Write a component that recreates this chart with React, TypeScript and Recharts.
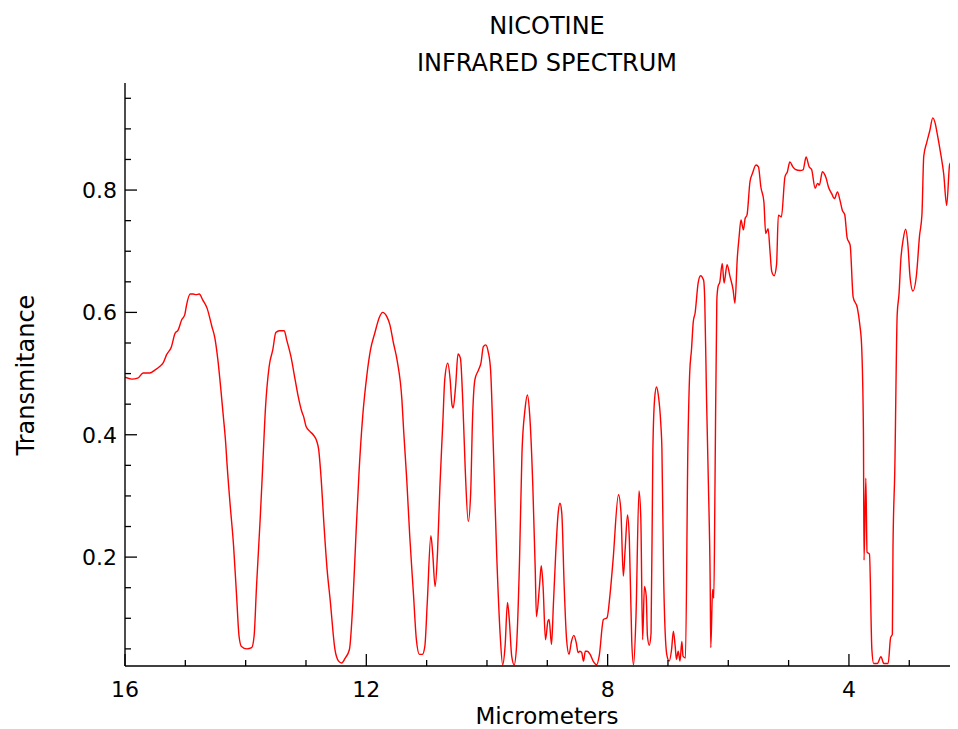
import React from "react";
import { LineChart, Line, XAxis, YAxis } from "recharts";

const wavelengthUm = [
  16.0, 15.89, 15.78, 15.7, 15.59, 15.5, 15.42, 15.37, 15.31, 15.23,
  15.17, 15.12, 15.06, 15.01, 14.98, 14.92, 14.87, 14.82, 14.77, 14.71,
  14.64, 14.56, 14.51, 14.46, 14.41, 14.37, 14.33, 14.31, 14.26, 14.2,
  14.15, 14.11, 14.07, 13.98, 13.9, 13.86, 13.82, 13.76, 13.72, 13.67,
  13.61, 13.55, 13.5, 13.44, 13.36, 13.32, 13.25, 13.18, 13.13, 13.07,
  13.04, 13.0, 12.93, 12.88, 12.82, 12.79, 12.75, 12.7, 12.65, 12.6,
  12.52, 12.46, 12.41, 12.35, 12.28, 12.22, 12.17, 12.12, 12.06, 11.99,
  11.93, 11.86, 11.78, 11.73, 11.66, 11.61, 11.55, 11.49, 11.41, 11.38,
  11.33, 11.28, 11.22, 11.17, 11.12, 11.07, 11.03, 10.99, 10.93, 10.9,
  10.86, 10.82, 10.78, 10.73, 10.7, 10.65, 10.61, 10.58, 10.56, 10.52,
  10.48, 10.44, 10.4, 10.36, 10.31, 10.27, 10.24, 10.2, 10.14, 10.1,
  10.06, 10.02, 9.98, 9.94, 9.9, 9.84, 9.78, 9.74, 9.7, 9.66,
  9.63, 9.59, 9.55, 9.51, 9.46, 9.42, 9.37, 9.33, 9.29, 9.24,
  9.2, 9.18, 9.13, 9.1, 9.07, 9.03, 8.99, 8.97, 8.93, 8.9,
  8.86, 8.82, 8.79, 8.76, 8.72, 8.68, 8.64, 8.6, 8.56, 8.52,
  8.49, 8.46, 8.43, 8.4, 8.37, 8.34, 8.29, 8.24, 8.18, 8.14,
  8.07, 8.01, 7.96, 7.91, 7.82, 7.78, 7.74, 7.71, 7.67, 7.64,
  7.6, 7.57, 7.53, 7.48, 7.45, 7.42, 7.39, 7.36, 7.34, 7.31,
  7.28, 7.25, 7.22, 7.19, 7.16, 7.12, 7.1, 7.07, 7.02, 6.98,
  6.94, 6.91, 6.88, 6.86, 6.83, 6.8, 6.77, 6.75, 6.71, 6.67,
  6.64, 6.61, 6.58, 6.55, 6.5, 6.46, 6.41, 6.39, 6.36, 6.33,
  6.3, 6.29, 6.26, 6.24, 6.22, 6.19, 6.17, 6.14, 6.1, 6.07,
  6.02, 5.97, 5.92, 5.89, 5.85, 5.82, 5.79, 5.75, 5.72, 5.69,
  5.64, 5.6, 5.54, 5.5, 5.46, 5.41, 5.38, 5.34, 5.31, 5.28,
  5.24, 5.2, 5.17, 5.12, 5.06, 5.02, 4.98, 4.93, 4.89, 4.81,
  4.76, 4.71, 4.66, 4.62, 4.56, 4.52, 4.49, 4.44, 4.38, 4.34,
  4.29, 4.24, 4.19, 4.15, 4.11, 4.07, 4.03, 3.98, 3.93, 3.86,
  3.82, 3.79, 3.76, 3.75, 3.72, 3.7, 3.66, 3.62, 3.59, 3.53,
  3.47, 3.42, 3.35, 3.31, 3.28, 3.27, 3.24, 3.2, 3.17, 3.14,
  3.1, 3.06, 3.02, 2.99, 2.94, 2.88, 2.83, 2.79, 2.76, 2.71,
  2.66, 2.61, 2.57, 2.54, 2.48, 2.43, 2.38, 2.33, 2.27, 2.21,
  2.19, 2.14,
];

const transmittance = [
  0.494, 0.491, 0.493, 0.501, 0.501, 0.506, 0.512, 0.517, 0.531, 0.544,
  0.566, 0.571, 0.588, 0.596, 0.612, 0.63, 0.63, 0.629, 0.63, 0.62,
  0.607, 0.577, 0.558, 0.522, 0.473, 0.43, 0.385, 0.354, 0.289, 0.218,
  0.136, 0.071, 0.054, 0.05, 0.052, 0.071, 0.152, 0.261, 0.343, 0.446,
  0.512, 0.539, 0.567, 0.57, 0.57, 0.555, 0.528, 0.49, 0.463, 0.438,
  0.43, 0.414, 0.405, 0.4, 0.389, 0.376, 0.33, 0.25, 0.18, 0.131,
  0.049, 0.03, 0.027, 0.035, 0.049, 0.131, 0.24, 0.34, 0.43, 0.498,
  0.539, 0.566, 0.593, 0.6, 0.593, 0.58, 0.55, 0.522, 0.457, 0.405,
  0.327, 0.234, 0.142, 0.065, 0.041, 0.041, 0.054, 0.125, 0.235, 0.207,
  0.152, 0.207, 0.316, 0.424, 0.49, 0.517, 0.49, 0.449, 0.444, 0.479,
  0.532, 0.525, 0.452, 0.343, 0.258, 0.305, 0.424, 0.49, 0.506, 0.517,
  0.544, 0.547, 0.536, 0.506, 0.397, 0.207, 0.071, 0.024, 0.054, 0.126,
  0.098, 0.038, 0.024, 0.054, 0.196, 0.37, 0.441, 0.465, 0.43, 0.316,
  0.18, 0.103, 0.152, 0.186, 0.152, 0.065, 0.095, 0.098, 0.057, 0.12,
  0.207, 0.272, 0.288, 0.272, 0.152, 0.065, 0.041, 0.062, 0.072, 0.06,
  0.044, 0.046, 0.044, 0.03, 0.046, 0.046, 0.041, 0.03, 0.024, 0.038,
  0.098, 0.101, 0.139, 0.195, 0.302, 0.275, 0.169, 0.212, 0.269, 0.229,
  0.062, 0.024, 0.103, 0.308, 0.264, 0.065, 0.152, 0.136, 0.071, 0.056,
  0.076, 0.376, 0.46, 0.478, 0.465, 0.42, 0.376, 0.158, 0.041, 0.03,
  0.049, 0.079, 0.054, 0.033, 0.046, 0.03, 0.062, 0.038, 0.035, 0.376,
  0.5, 0.539, 0.585, 0.599, 0.648, 0.66, 0.653, 0.62, 0.457, 0.321,
  0.158, 0.052, 0.147, 0.133, 0.321, 0.62, 0.642, 0.65, 0.68, 0.648,
  0.678, 0.658, 0.637, 0.615, 0.69, 0.724, 0.751, 0.735, 0.754, 0.759,
  0.814, 0.827, 0.841, 0.838, 0.805, 0.781, 0.729, 0.737, 0.702, 0.667,
  0.66, 0.678, 0.759, 0.756, 0.822, 0.83, 0.846, 0.838, 0.834, 0.832,
  0.833, 0.854, 0.838, 0.834, 0.803, 0.811, 0.808, 0.83, 0.82, 0.805,
  0.795, 0.786, 0.797, 0.784, 0.767, 0.76, 0.722, 0.71, 0.625, 0.607,
  0.58, 0.546, 0.406, 0.195, 0.329, 0.208, 0.205, 0.049, 0.026, 0.026,
  0.037, 0.026, 0.026, 0.068, 0.074, 0.214, 0.342, 0.597, 0.63, 0.686,
  0.72, 0.736, 0.707, 0.661, 0.635, 0.662, 0.725, 0.76, 0.855, 0.878,
  0.897, 0.918, 0.909, 0.894, 0.86, 0.827, 0.775, 0.842, 0.85, 0.86,
  0.822, 0.81,
];

const xTicks = [16, 15, 14, 13, 12, 11, 10, 9, 8, 7, 6, 5, 4, 3, 2];
const xLabelTicks = [16, 12, 8, 4];
const yTicks = [
  0.05, 0.1, 0.15, 0.2, 0.25, 0.3, 0.35, 0.4, 0.45, 0.5, 0.55, 0.6, 0.65,
  0.7, 0.75, 0.8, 0.85, 0.9, 0.95,
];
const yLabelTicks = [0.2, 0.4, 0.6, 0.8];

const data = wavelengthUm.map((um, i) => ({ um, t: transmittance[i] }));

const FONT = "DejaVu Sans";

function XTick(props: any) {
  const { x, y, payload } = props;
  const major = xLabelTicks.includes(payload.value);
  return (
    <g>
      <line x1={x} x2={x} y1={y} y2={y - (major ? 12 : 6)} stroke="#000" strokeWidth={1.3} />
      {major && (
        <text x={x} y={y + 15} dy="0.72em" textAnchor="middle" fontSize={22} fontFamily={FONT} fill="#000">
          {payload.value}
        </text>
      )}
    </g>
  );
}

function YTick(props: any) {
  const { x, y, payload } = props;
  const major = yLabelTicks.includes(payload.value);
  return (
    <g>
      <line x1={x} x2={x + (major ? 12 : 6)} y1={y} y2={y} stroke="#000" strokeWidth={1.3} />
      {major && (
        <text x={x - 8} y={y} dy="0.36em" textAnchor="end" fontSize={22} fontFamily={FONT} fill="#000">
          {payload.value.toFixed(1)}
        </text>
      )}
    </g>
  );
}

export default function App() {
  return (
    <div style={{ position: "relative", width: 950, height: 721, overflow: "hidden", background: "#fff" }}>
      <LineChart
        width={1000}
        height={721}
        data={data}
        margin={{ top: 75, right: 38.4, left: 57, bottom: 13 }}
      >
        <XAxis
          type="number"
          dataKey="um"
          domain={[2, 16]}
          reversed
          ticks={xTicks}
          interval={0}
          height={50}
          tickSize={0}
          tickMargin={0}
          tickLine={false}
          tick={<XTick />}
          axisLine={{ stroke: "#000", strokeWidth: 1.4 }}
          allowDataOverflow
        />
        <XAxis
          xAxisId="top"
          orientation="top"
          type="number"
          dataKey="um"
          domain={[2, 16]}
          reversed
          height={0}
          tick={false}
          tickLine={false}
          axisLine={{ stroke: "#000", strokeWidth: 1.4 }}
        />
        <YAxis
          type="number"
          domain={[0.022, 0.975]}
          ticks={yTicks}
          interval={0}
          width={60}
          tickSize={0}
          tickMargin={0}
          tickLine={false}
          tick={<YTick />}
          axisLine={{ stroke: "#000", strokeWidth: 1.4 }}
          allowDataOverflow
        />
        <Line
          type="monotone"
          dataKey="t"
          stroke="#ff0000"
          strokeWidth={1.4}
          dot={false}
          isAnimationActive={false}
        />
      </LineChart>
      <svg
        width={950}
        height={721}
        style={{ position: "absolute", left: 0, top: 0, pointerEvents: "none" }}
        fontFamily={FONT}
        fontSize={24}
        fill="#000"
      >
        <text x={539} y={26} textAnchor="middle">NICOTINE</text>
        <text x={539} y={63} textAnchor="middle">INFRARED SPECTRUM</text>
        <text x={539} y={715.5} textAnchor="middle" fontSize={23}>Micrometers</text>
        <text x={26} y={367} textAnchor="middle" transform="rotate(-90 26 367)">Transmitance</text>
      </svg>
    </div>
  );
}
